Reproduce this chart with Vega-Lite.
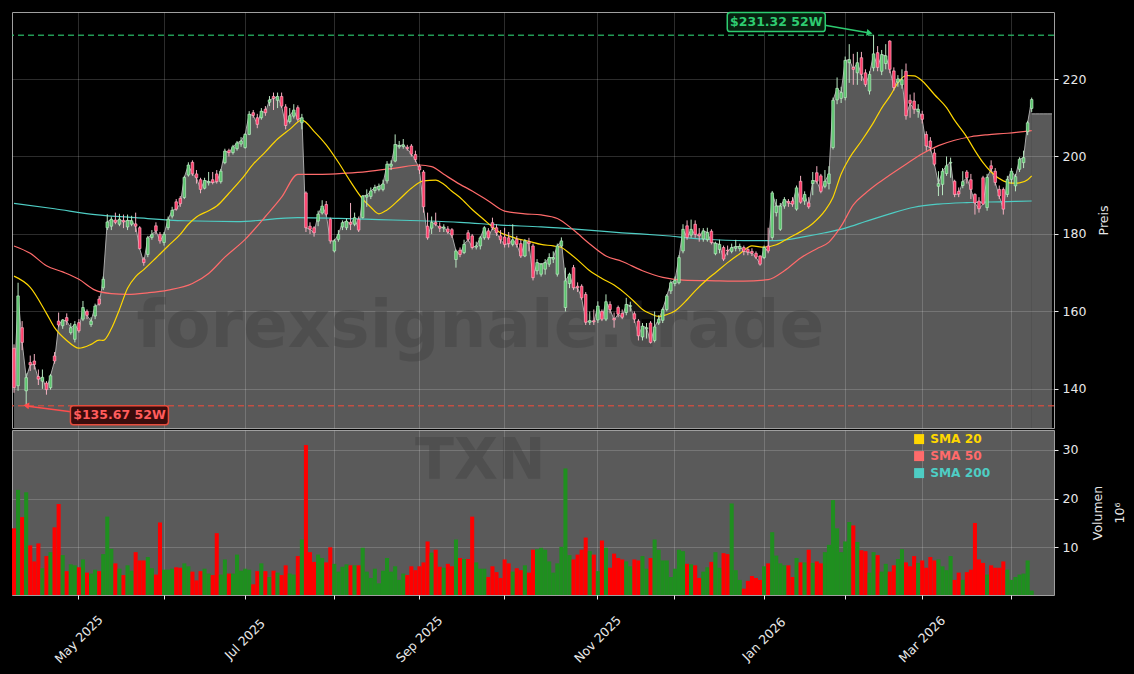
{
"$schema":"https://vega.github.io/schema/vega-lite/v6.json",
"background":"#000000",
"padding":{"left":10,"top":9,"right":12,"bottom":12},
"config":{
 "font":"DejaVu Sans",
 "view":{"stroke":"#a0a0a0","strokeWidth":1},
 "axis":{"gridColor":"#ffffff","gridOpacity":0.22,"gridWidth":0.8,"domain":false,"labelColor":"#e8e8e8","labelFont":"DejaVu Sans","labelFontSize":12.5,"tickColor":"#e8e8e8","tickSize":4,"titleColor":"#e8e8e8","titleFont":"DejaVu Sans","titleFontSize":12.5,"titleFontWeight":"normal"}
},
"datasets":{
"ohlc":[
{"date":"2025-04-08","open":150.5,"high":151.5,"low":139.0,"close":140.3,"volume":13.9},
{"date":"2025-04-09","open":140.8,"high":167.4,"low":139.5,"close":164.0,"volume":21.8},
{"date":"2025-04-10","open":155.8,"high":157.5,"low":150.0,"close":152.0,"volume":16.2},
{"date":"2025-04-11","open":139.5,"high":144.0,"low":135.67,"close":142.9,"volume":21.3},
{"date":"2025-04-14","open":146.8,"high":148.6,"low":144.6,"close":146.2,"volume":10.4},
{"date":"2025-04-15","open":147.2,"high":149.0,"low":145.0,"close":146.3,"volume":7.1},
{"date":"2025-04-16","open":143.2,"high":145.0,"low":141.0,"close":142.5,"volume":10.8},
{"date":"2025-04-17","open":142.0,"high":145.0,"low":140.0,"close":143.0,"volume":5.7},
{"date":"2025-04-21","open":141.5,"high":142.0,"low":138.5,"close":139.8,"volume":8.2},
{"date":"2025-04-22","open":140.3,"high":143.8,"low":139.8,"close":143.4,"volume":9.0},
{"date":"2025-04-23","open":148.5,"high":149.5,"low":146.5,"close":147.2,"volume":14.1},
{"date":"2025-04-24","open":157.5,"high":159.7,"low":156.0,"close":156.5,"volume":18.9},
{"date":"2025-04-25","open":156.3,"high":158.0,"low":155.5,"close":157.8,"volume":8.4},
{"date":"2025-04-28","open":158.4,"high":159.5,"low":156.5,"close":157.5,"volume":5.1},
{"date":"2025-04-29","open":154.5,"high":157.0,"low":154.0,"close":155.8,"volume":6.5},
{"date":"2025-04-30","open":152.8,"high":157.5,"low":152.0,"close":156.6,"volume":6.3},
{"date":"2025-05-01","open":157.1,"high":158.0,"low":154.5,"close":155.0,"volume":5.9},
{"date":"2025-05-02","open":158.0,"high":162.7,"low":157.5,"close":161.0,"volume":7.5},
{"date":"2025-05-05","open":160.0,"high":160.5,"low":158.0,"close":159.0,"volume":4.8},
{"date":"2025-05-06","open":156.6,"high":158.5,"low":156.0,"close":157.5,"volume":4.6},
{"date":"2025-05-07","open":158.8,"high":162.0,"low":158.0,"close":161.4,"volume":5.4},
{"date":"2025-05-08","open":163.2,"high":164.0,"low":161.5,"close":161.9,"volume":5.1},
{"date":"2025-05-09","open":166.1,"high":169.0,"low":165.5,"close":168.3,"volume":8.6},
{"date":"2025-05-12","open":181.6,"high":185.1,"low":181.0,"close":183.1,"volume":16.3},
{"date":"2025-05-13","open":182.0,"high":184.5,"low":181.0,"close":183.8,"volume":9.7},
{"date":"2025-05-14","open":183.6,"high":185.5,"low":182.5,"close":183.0,"volume":6.7},
{"date":"2025-05-15","open":182.5,"high":185.2,"low":182.0,"close":183.8,"volume":5.6},
{"date":"2025-05-16","open":183.5,"high":185.0,"low":181.5,"close":183.1,"volume":4.3},
{"date":"2025-05-19","open":181.8,"high":185.0,"low":181.0,"close":183.5,"volume":6.3},
{"date":"2025-05-20","open":182.5,"high":184.7,"low":182.0,"close":183.4,"volume":5.2},
{"date":"2025-05-21","open":182.6,"high":185.5,"low":180.5,"close":182.0,"volume":9.0},
{"date":"2025-05-22","open":181.6,"high":182.0,"low":176.0,"close":176.2,"volume":7.3},
{"date":"2025-05-23","open":173.5,"high":174.0,"low":171.8,"close":172.6,"volume":7.3},
{"date":"2025-05-27","open":174.7,"high":179.5,"low":174.0,"close":179.0,"volume":8.0},
{"date":"2025-05-28","open":179.1,"high":181.0,"low":178.5,"close":179.9,"volume":5.7},
{"date":"2025-05-29","open":182.1,"high":183.0,"low":180.0,"close":180.8,"volume":4.4},
{"date":"2025-05-30","open":179.9,"high":180.5,"low":177.5,"close":178.2,"volume":15.1},
{"date":"2025-06-02","open":177.8,"high":180.5,"low":177.0,"close":179.9,"volume":5.4},
{"date":"2025-06-03","open":181.6,"high":184.5,"low":181.0,"close":183.8,"volume":5.4},
{"date":"2025-06-04","open":184.6,"high":187.0,"low":184.0,"close":186.1,"volume":5.6},
{"date":"2025-06-05","open":188.3,"high":189.0,"low":186.0,"close":186.4,"volume":5.9},
{"date":"2025-06-06","open":189.2,"high":189.8,"low":187.0,"close":187.8,"volume":5.8},
{"date":"2025-06-09","open":189.4,"high":195.0,"low":189.0,"close":194.6,"volume":6.7},
{"date":"2025-06-10","open":195.2,"high":198.5,"low":194.8,"close":197.8,"volume":6.1},
{"date":"2025-06-11","open":198.5,"high":199.0,"low":195.0,"close":195.5,"volume":5.0},
{"date":"2025-06-12","open":195.5,"high":196.5,"low":193.0,"close":194.5,"volume":3.2},
{"date":"2025-06-13","open":194.0,"high":194.5,"low":190.5,"close":191.5,"volume":5.1},
{"date":"2025-06-16","open":191.8,"high":194.5,"low":191.5,"close":193.8,"volume":5.6},
{"date":"2025-06-17","open":193.2,"high":196.0,"low":192.5,"close":193.5,"volume":4.6},
{"date":"2025-06-18","open":194.0,"high":196.0,"low":192.8,"close":193.3,"volume":4.3},
{"date":"2025-06-20","open":195.5,"high":196.5,"low":193.0,"close":193.5,"volume":12.9},
{"date":"2025-06-23","open":193.5,"high":196.8,"low":193.0,"close":196.2,"volume":4.4},
{"date":"2025-06-24","open":198.4,"high":202.0,"low":198.0,"close":201.4,"volume":7.5},
{"date":"2025-06-25","open":201.5,"high":202.0,"low":200.0,"close":201.0,"volume":4.6},
{"date":"2025-06-26","open":201.0,"high":203.0,"low":200.5,"close":202.5,"volume":4.6},
{"date":"2025-06-27","open":202.0,"high":204.0,"low":201.5,"close":203.5,"volume":8.5},
{"date":"2025-06-30","open":203.2,"high":205.0,"low":202.5,"close":204.0,"volume":5.2},
{"date":"2025-07-01","open":202.3,"high":206.0,"low":202.0,"close":205.7,"volume":5.6},
{"date":"2025-07-02","open":205.7,"high":211.7,"low":205.5,"close":210.9,"volume":5.4},
{"date":"2025-07-03","open":211.3,"high":212.0,"low":210.0,"close":210.6,"volume":2.4},
{"date":"2025-07-07","open":210.0,"high":211.0,"low":207.3,"close":208.3,"volume":5.1},
{"date":"2025-07-08","open":210.0,"high":212.5,"low":209.5,"close":211.7,"volume":6.7},
{"date":"2025-07-09","open":212.2,"high":213.0,"low":210.5,"close":211.3,"volume":5.1},
{"date":"2025-07-10","open":214.0,"high":215.6,"low":213.0,"close":214.6,"volume":3.9},
{"date":"2025-07-11","open":215.5,"high":216.5,"low":212.0,"close":215.0,"volume":5.2},
{"date":"2025-07-14","open":214.5,"high":216.5,"low":212.5,"close":215.5,"volume":4.8},
{"date":"2025-07-15","open":215.5,"high":216.5,"low":212.5,"close":213.0,"volume":4.3},
{"date":"2025-07-16","open":212.8,"high":213.5,"low":207.0,"close":208.0,"volume":6.3},
{"date":"2025-07-17","open":209.0,"high":212.5,"low":208.5,"close":210.5,"volume":4.6},
{"date":"2025-07-18","open":210.4,"high":213.5,"low":209.8,"close":212.0,"volume":4.4},
{"date":"2025-07-21","open":212.6,"high":213.2,"low":209.0,"close":209.6,"volume":8.2},
{"date":"2025-07-22","open":208.7,"high":211.0,"low":207.0,"close":210.0,"volume":11.6},
{"date":"2025-07-23","open":190.6,"high":191.0,"low":180.5,"close":181.6,"volume":31.0},
{"date":"2025-07-24","open":182.0,"high":183.0,"low":180.0,"close":181.2,"volume":9.0},
{"date":"2025-07-25","open":181.6,"high":182.0,"low":179.3,"close":180.3,"volume":7.0},
{"date":"2025-07-28","open":183.3,"high":186.0,"low":182.0,"close":185.1,"volume":8.5},
{"date":"2025-07-29","open":185.4,"high":188.7,"low":185.0,"close":187.2,"volume":7.8},
{"date":"2025-07-30","open":187.6,"high":188.5,"low":184.5,"close":185.1,"volume":6.9},
{"date":"2025-07-31","open":183.8,"high":184.2,"low":177.5,"close":178.2,"volume":10.0},
{"date":"2025-08-01","open":175.6,"high":178.7,"low":175.2,"close":178.2,"volume":6.6},
{"date":"2025-08-04","open":178.6,"high":181.0,"low":178.0,"close":179.9,"volume":5.0},
{"date":"2025-08-05","open":181.8,"high":183.5,"low":181.0,"close":182.9,"volume":6.0},
{"date":"2025-08-06","open":181.6,"high":184.0,"low":181.0,"close":183.3,"volume":6.5},
{"date":"2025-08-07","open":183.0,"high":188.0,"low":181.0,"close":182.5,"volume":6.3},
{"date":"2025-08-08","open":182.5,"high":185.5,"low":182.0,"close":184.2,"volume":6.3},
{"date":"2025-08-11","open":183.8,"high":184.5,"low":180.5,"close":181.0,"volume":6.3},
{"date":"2025-08-12","open":184.2,"high":190.0,"low":184.0,"close":189.8,"volume":9.9},
{"date":"2025-08-13","open":189.5,"high":191.5,"low":187.0,"close":190.0,"volume":5.0},
{"date":"2025-08-14","open":189.7,"high":192.0,"low":189.0,"close":191.1,"volume":3.7},
{"date":"2025-08-15","open":191.2,"high":192.7,"low":190.5,"close":192.0,"volume":5.6},
{"date":"2025-08-18","open":191.5,"high":193.0,"low":191.0,"close":192.3,"volume":2.6},
{"date":"2025-08-19","open":191.5,"high":194.0,"low":191.0,"close":192.9,"volume":5.2},
{"date":"2025-08-20","open":193.7,"high":198.8,"low":193.0,"close":198.0,"volume":7.8},
{"date":"2025-08-21","open":197.5,"high":199.0,"low":196.5,"close":198.0,"volume":5.0},
{"date":"2025-08-22","open":198.8,"high":205.7,"low":198.5,"close":203.1,"volume":6.1},
{"date":"2025-08-25","open":202.5,"high":204.0,"low":202.0,"close":202.8,"volume":3.3},
{"date":"2025-08-26","open":202.6,"high":204.5,"low":202.0,"close":203.0,"volume":4.6},
{"date":"2025-08-27","open":202.4,"high":203.0,"low":201.5,"close":202.0,"volume":4.3},
{"date":"2025-08-28","open":202.7,"high":203.2,"low":200.0,"close":200.6,"volume":6.1},
{"date":"2025-08-29","open":200.5,"high":201.5,"low":198.5,"close":199.2,"volume":5.3},
{"date":"2025-09-02","open":197.5,"high":198.0,"low":195.5,"close":196.5,"volume":6.1},
{"date":"2025-09-03","open":196.0,"high":196.5,"low":185.5,"close":187.0,"volume":6.9},
{"date":"2025-09-04","open":182.0,"high":185.5,"low":178.5,"close":179.0,"volume":11.2},
{"date":"2025-09-05","open":181.5,"high":184.5,"low":180.0,"close":183.0,"volume":8.9},
{"date":"2025-09-08","open":183.0,"high":185.5,"low":182.0,"close":182.5,"volume":9.5},
{"date":"2025-09-09","open":182.0,"high":183.0,"low":180.5,"close":181.5,"volume":6.0},
{"date":"2025-09-10","open":181.5,"high":182.5,"low":180.5,"close":181.8,"volume":5.8},
{"date":"2025-09-11","open":181.3,"high":182.0,"low":180.0,"close":180.5,"volume":6.6},
{"date":"2025-09-12","open":181.1,"high":181.5,"low":179.0,"close":179.7,"volume":6.1},
{"date":"2025-09-15","open":173.4,"high":176.0,"low":171.3,"close":175.6,"volume":11.6},
{"date":"2025-09-16","open":175.8,"high":176.5,"low":174.0,"close":174.7,"volume":7.8},
{"date":"2025-09-17","open":175.2,"high":178.5,"low":174.8,"close":177.3,"volume":7.6},
{"date":"2025-09-18","open":180.3,"high":181.0,"low":178.0,"close":178.6,"volume":7.6},
{"date":"2025-09-19","open":179.5,"high":180.0,"low":176.0,"close":176.5,"volume":16.3},
{"date":"2025-09-22","open":176.6,"high":178.0,"low":176.0,"close":176.9,"volume":6.9},
{"date":"2025-09-23","open":176.9,"high":179.5,"low":176.0,"close":179.0,"volume":5.6},
{"date":"2025-09-24","open":179.0,"high":182.0,"low":178.5,"close":181.6,"volume":5.6},
{"date":"2025-09-25","open":180.8,"high":181.5,"low":178.5,"close":179.0,"volume":3.9},
{"date":"2025-09-26","open":182.9,"high":184.2,"low":181.0,"close":181.6,"volume":6.1},
{"date":"2025-09-29","open":181.6,"high":182.5,"low":179.5,"close":180.3,"volume":4.9},
{"date":"2025-09-30","open":179.5,"high":181.0,"low":177.5,"close":178.5,"volume":3.7},
{"date":"2025-10-01","open":179.2,"high":181.6,"low":176.5,"close":177.3,"volume":7.5},
{"date":"2025-10-02","open":179.0,"high":180.5,"low":176.5,"close":177.5,"volume":6.7},
{"date":"2025-10-03","open":177.3,"high":182.5,"low":176.8,"close":178.5,"volume":5.0},
{"date":"2025-10-06","open":178.6,"high":179.5,"low":176.5,"close":177.3,"volume":5.7},
{"date":"2025-10-07","open":177.5,"high":178.5,"low":173.8,"close":174.3,"volume":5.3},
{"date":"2025-10-08","open":174.3,"high":178.7,"low":174.0,"close":178.2,"volume":6.3},
{"date":"2025-10-09","open":178.0,"high":179.0,"low":175.5,"close":177.5,"volume":4.8},
{"date":"2025-10-10","open":176.9,"high":177.5,"low":168.0,"close":168.7,"volume":9.5},
{"date":"2025-10-13","open":170.5,"high":173.5,"low":169.5,"close":172.6,"volume":9.6},
{"date":"2025-10-14","open":169.6,"high":172.5,"low":169.0,"close":172.2,"volume":9.9},
{"date":"2025-10-15","open":170.9,"high":173.5,"low":169.5,"close":172.6,"volume":9.5},
{"date":"2025-10-16","open":172.2,"high":175.0,"low":171.5,"close":173.9,"volume":7.1},
{"date":"2025-10-17","open":173.5,"high":175.5,"low":172.5,"close":173.9,"volume":4.8},
{"date":"2025-10-20","open":169.6,"high":177.5,"low":169.0,"close":176.9,"volume":6.7},
{"date":"2025-10-21","open":176.9,"high":179.1,"low":176.5,"close":178.2,"volume":10.1},
{"date":"2025-10-22","open":161.0,"high":171.3,"low":160.0,"close":167.9,"volume":26.2},
{"date":"2025-10-23","open":167.2,"high":170.0,"low":166.0,"close":169.6,"volume":8.4},
{"date":"2025-10-24","open":171.3,"high":172.0,"low":165.5,"close":166.1,"volume":7.5},
{"date":"2025-10-27","open":166.5,"high":167.5,"low":165.0,"close":166.1,"volume":8.5},
{"date":"2025-10-28","open":166.5,"high":167.0,"low":163.0,"close":163.5,"volume":9.5},
{"date":"2025-10-29","open":164.4,"high":165.0,"low":156.5,"close":157.2,"volume":12.0},
{"date":"2025-10-30","open":157.2,"high":160.0,"low":156.5,"close":157.6,"volume":9.2},
{"date":"2025-10-31","open":157.6,"high":160.5,"low":156.5,"close":157.3,"volume":8.5},
{"date":"2025-11-03","open":157.8,"high":162.6,"low":157.0,"close":161.4,"volume":5.1},
{"date":"2025-11-04","open":160.0,"high":160.5,"low":157.5,"close":158.0,"volume":11.4},
{"date":"2025-11-05","open":158.0,"high":164.4,"low":157.5,"close":162.5,"volume":9.9},
{"date":"2025-11-06","open":161.8,"high":162.6,"low":159.5,"close":160.5,"volume":5.8},
{"date":"2025-11-07","open":158.2,"high":159.7,"low":155.8,"close":157.8,"volume":8.7},
{"date":"2025-11-10","open":161.0,"high":161.5,"low":158.5,"close":159.3,"volume":7.8},
{"date":"2025-11-11","open":159.5,"high":160.5,"low":158.0,"close":158.5,"volume":7.5},
{"date":"2025-11-12","open":159.7,"high":163.5,"low":159.0,"close":161.8,"volume":7.1},
{"date":"2025-11-13","open":161.3,"high":162.5,"low":160.0,"close":161.5,"volume":6.1},
{"date":"2025-11-14","open":159.4,"high":160.0,"low":157.0,"close":158.0,"volume":7.5},
{"date":"2025-11-17","open":157.5,"high":158.0,"low":152.5,"close":153.7,"volume":7.3},
{"date":"2025-11-18","open":153.4,"high":157.0,"low":152.5,"close":156.2,"volume":8.2},
{"date":"2025-11-19","open":155.5,"high":157.0,"low":153.0,"close":155.8,"volume":5.6},
{"date":"2025-11-20","open":157.0,"high":157.5,"low":151.7,"close":152.0,"volume":7.8},
{"date":"2025-11-21","open":152.5,"high":160.0,"low":152.0,"close":156.0,"volume":11.6},
{"date":"2025-11-24","open":157.0,"high":159.0,"low":156.5,"close":158.0,"volume":9.5},
{"date":"2025-11-25","open":157.7,"high":161.0,"low":157.0,"close":160.5,"volume":7.3},
{"date":"2025-11-26","open":160.5,"high":164.5,"low":160.0,"close":164.0,"volume":7.3},
{"date":"2025-11-28","open":165.3,"high":168.0,"low":164.5,"close":167.4,"volume":3.9},
{"date":"2025-12-01","open":167.2,"high":169.0,"low":166.5,"close":168.0,"volume":5.6},
{"date":"2025-12-02","open":167.4,"high":174.5,"low":167.0,"close":173.9,"volume":9.5},
{"date":"2025-12-03","open":175.6,"high":182.5,"low":175.0,"close":181.2,"volume":9.2},
{"date":"2025-12-04","open":182.1,"high":183.5,"low":178.5,"close":179.1,"volume":6.6},
{"date":"2025-12-05","open":179.7,"high":183.7,"low":179.0,"close":181.2,"volume":6.5},
{"date":"2025-12-08","open":182.5,"high":183.5,"low":179.0,"close":179.9,"volume":6.3},
{"date":"2025-12-09","open":180.0,"high":181.5,"low":178.0,"close":179.5,"volume":3.7},
{"date":"2025-12-10","open":178.7,"high":181.5,"low":178.0,"close":180.8,"volume":5.0},
{"date":"2025-12-11","open":178.5,"high":181.6,"low":178.0,"close":180.4,"volume":5.9},
{"date":"2025-12-12","open":180.7,"high":181.2,"low":177.3,"close":177.8,"volume":7.0},
{"date":"2025-12-15","open":174.9,"high":178.0,"low":174.5,"close":177.6,"volume":9.0},
{"date":"2025-12-16","open":176.0,"high":178.5,"low":175.0,"close":177.3,"volume":5.8},
{"date":"2025-12-17","open":176.5,"high":177.0,"low":173.0,"close":173.5,"volume":8.8},
{"date":"2025-12-18","open":175.8,"high":177.0,"low":174.5,"close":175.6,"volume":8.6},
{"date":"2025-12-19","open":175.5,"high":177.5,"low":175.0,"close":176.5,"volume":19.0},
{"date":"2025-12-22","open":176.3,"high":178.5,"low":175.5,"close":176.7,"volume":5.3},
{"date":"2025-12-23","open":176.2,"high":177.5,"low":175.5,"close":176.8,"volume":3.3},
{"date":"2025-12-24","open":176.5,"high":177.0,"low":174.5,"close":175.5,"volume":1.5},
{"date":"2025-12-26","open":176.0,"high":176.5,"low":174.5,"close":175.3,"volume":3.1},
{"date":"2025-12-29","open":175.5,"high":176.3,"low":174.3,"close":175.0,"volume":4.1},
{"date":"2025-12-30","open":175.0,"high":175.5,"low":173.5,"close":174.0,"volume":3.7},
{"date":"2025-12-31","open":174.3,"high":174.5,"low":171.8,"close":172.2,"volume":3.3},
{"date":"2026-01-02","open":173.9,"high":177.0,"low":173.5,"close":176.5,"volume":6.1},
{"date":"2026-01-05","open":176.9,"high":181.6,"low":175.0,"close":175.6,"volume":6.7},
{"date":"2026-01-06","open":179.1,"high":191.1,"low":178.5,"close":190.6,"volume":13.1},
{"date":"2026-01-07","open":185.5,"high":189.0,"low":184.5,"close":187.2,"volume":8.3},
{"date":"2026-01-08","open":181.2,"high":188.0,"low":180.8,"close":187.2,"volume":6.7},
{"date":"2026-01-09","open":187.2,"high":189.5,"low":186.5,"close":188.9,"volume":6.3},
{"date":"2026-01-12","open":188.4,"high":189.0,"low":187.0,"close":188.0,"volume":6.3},
{"date":"2026-01-13","open":188.5,"high":189.5,"low":187.0,"close":187.7,"volume":3.9},
{"date":"2026-01-14","open":186.4,"high":192.5,"low":186.0,"close":191.9,"volume":7.8},
{"date":"2026-01-15","open":193.6,"high":195.0,"low":187.8,"close":188.2,"volume":6.9},
{"date":"2026-01-16","open":188.5,"high":191.0,"low":187.5,"close":190.2,"volume":6.9},
{"date":"2026-01-20","open":188.0,"high":189.5,"low":186.5,"close":187.0,"volume":9.5},
{"date":"2026-01-21","open":193.0,"high":196.0,"low":190.0,"close":193.8,"volume":6.8},
{"date":"2026-01-22","open":195.8,"high":197.5,"low":193.0,"close":193.6,"volume":7.1},
{"date":"2026-01-23","open":195.0,"high":195.5,"low":190.5,"close":191.0,"volume":6.7},
{"date":"2026-01-26","open":192.3,"high":196.5,"low":191.8,"close":193.6,"volume":9.0},
{"date":"2026-01-27","open":193.0,"high":197.5,"low":191.5,"close":195.5,"volume":10.5},
{"date":"2026-01-28","open":202.3,"high":215.2,"low":201.8,"close":214.5,"volume":19.7},
{"date":"2026-01-29","open":214.6,"high":220.4,"low":213.5,"close":217.6,"volume":13.9},
{"date":"2026-01-30","open":215.0,"high":218.0,"low":213.8,"close":216.5,"volume":9.0},
{"date":"2026-02-02","open":215.2,"high":225.8,"low":214.5,"close":224.8,"volume":11.2},
{"date":"2026-02-03","open":224.2,"high":229.0,"low":219.0,"close":225.0,"volume":15.2},
{"date":"2026-02-04","open":223.0,"high":226.5,"low":218.5,"close":222.5,"volume":14.5},
{"date":"2026-02-05","open":221.6,"high":227.0,"low":218.5,"close":224.2,"volume":11.1},
{"date":"2026-02-06","open":225.5,"high":227.0,"low":219.5,"close":221.2,"volume":9.4},
{"date":"2026-02-09","open":221.6,"high":222.5,"low":218.0,"close":218.6,"volume":9.2},
{"date":"2026-02-10","open":216.9,"high":222.0,"low":216.0,"close":221.2,"volume":4.8},
{"date":"2026-02-11","open":222.9,"high":231.32,"low":222.0,"close":226.5,"volume":9.0},
{"date":"2026-02-12","open":226.8,"high":228.5,"low":222.0,"close":223.0,"volume":8.4},
{"date":"2026-02-13","open":222.0,"high":227.5,"low":221.0,"close":226.3,"volume":5.0},
{"date":"2026-02-17","open":224.0,"high":229.0,"low":222.5,"close":226.0,"volume":6.6},
{"date":"2026-02-18","open":229.8,"high":230.0,"low":221.5,"close":222.5,"volume":5.0},
{"date":"2026-02-19","open":222.1,"high":223.0,"low":217.0,"close":217.8,"volume":6.3},
{"date":"2026-02-20","open":219.2,"high":221.0,"low":218.0,"close":220.0,"volume":7.6},
{"date":"2026-02-23","open":218.5,"high":222.5,"low":217.5,"close":219.8,"volume":9.6},
{"date":"2026-02-24","open":222.0,"high":224.0,"low":209.5,"close":210.5,"volume":6.9},
{"date":"2026-02-25","open":214.5,"high":216.0,"low":210.0,"close":213.7,"volume":6.1},
{"date":"2026-02-26","open":214.3,"high":216.5,"low":211.0,"close":212.2,"volume":8.2},
{"date":"2026-02-27","open":211.6,"high":213.5,"low":210.0,"close":212.2,"volume":6.8},
{"date":"2026-03-02","open":210.9,"high":211.8,"low":208.5,"close":209.6,"volume":7.3},
{"date":"2026-03-03","open":205.7,"high":206.5,"low":201.5,"close":202.7,"volume":5.8},
{"date":"2026-03-04","open":204.0,"high":205.0,"low":201.3,"close":202.3,"volume":8.0},
{"date":"2026-03-05","open":200.9,"high":202.0,"low":197.5,"close":198.0,"volume":7.3},
{"date":"2026-03-06","open":192.3,"high":196.2,"low":189.8,"close":193.0,"volume":7.5},
{"date":"2026-03-09","open":192.8,"high":197.0,"low":190.0,"close":196.2,"volume":6.1},
{"date":"2026-03-10","open":195.6,"high":200.0,"low":195.0,"close":197.6,"volume":5.3},
{"date":"2026-03-11","open":198.3,"high":199.7,"low":194.5,"close":198.5,"volume":8.2},
{"date":"2026-03-12","open":193.6,"high":194.0,"low":189.5,"close":190.2,"volume":3.3},
{"date":"2026-03-13","open":191.0,"high":192.0,"low":189.5,"close":190.3,"volume":4.8},
{"date":"2026-03-16","open":192.5,"high":196.2,"low":191.8,"close":193.5,"volume":3.3},
{"date":"2026-03-17","open":196.0,"high":196.5,"low":193.0,"close":194.5,"volume":4.9},
{"date":"2026-03-18","open":194.0,"high":195.5,"low":189.0,"close":191.5,"volume":5.4},
{"date":"2026-03-19","open":190.2,"high":190.5,"low":185.0,"close":188.0,"volume":15.0},
{"date":"2026-03-20","open":188.5,"high":189.5,"low":185.5,"close":186.5,"volume":7.5},
{"date":"2026-03-23","open":194.5,"high":195.0,"low":187.5,"close":187.7,"volume":6.8},
{"date":"2026-03-24","open":186.8,"high":195.5,"low":186.0,"close":194.6,"volume":4.4},
{"date":"2026-03-25","open":197.6,"high":199.0,"low":196.0,"close":196.8,"volume":6.3},
{"date":"2026-03-26","open":196.2,"high":197.0,"low":192.5,"close":193.3,"volume":5.8},
{"date":"2026-03-27","open":191.5,"high":192.5,"low":189.0,"close":189.8,"volume":5.8},
{"date":"2026-03-30","open":191.5,"high":192.0,"low":185.0,"close":186.4,"volume":7.1},
{"date":"2026-03-31","open":190.2,"high":195.0,"low":189.5,"close":194.1,"volume":5.4},
{"date":"2026-04-01","open":194.1,"high":197.0,"low":193.0,"close":196.2,"volume":3.3},
{"date":"2026-04-02","open":192.4,"high":195.5,"low":191.0,"close":194.8,"volume":3.9},
{"date":"2026-04-06","open":196.7,"high":199.8,"low":196.0,"close":199.3,"volume":4.4},
{"date":"2026-04-07","open":198.4,"high":201.5,"low":197.0,"close":199.7,"volume":4.6},
{"date":"2026-04-08","open":206.4,"high":209.2,"low":205.5,"close":208.7,"volume":7.3},
{"date":"2026-04-09","open":212.4,"high":215.2,"low":211.5,"close":214.7,"volume":1.1}
],
"tail":[
{"date":"2026-04-09","level":211},{"date":"2026-04-10","level":211},{"date":"2026-04-13","level":211},{"date":"2026-04-14","level":211},{"date":"2026-04-15","level":211},{"date":"2026-04-16","level":211}
],
"sma":[
{"date":"2025-04-08","series":"SMA 200","value":187.9},{"date":"2025-04-23","series":"SMA 200","value":186.5},{"date":"2025-05-07","series":"SMA 200","value":185.0},{"date":"2025-05-21","series":"SMA 200","value":184.2},{"date":"2025-06-09","series":"SMA 200","value":183.4},{"date":"2025-06-27","series":"SMA 200","value":183.2},{"date":"2025-07-21","series":"SMA 200","value":184.2},{"date":"2025-08-04","series":"SMA 200","value":184.0},{"date":"2025-08-18","series":"SMA 200","value":183.7},{"date":"2025-09-02","series":"SMA 200","value":183.4},{"date":"2025-09-16","series":"SMA 200","value":183.0},{"date":"2025-09-30","series":"SMA 200","value":182.3},{"date":"2025-10-14","series":"SMA 200","value":181.8},{"date":"2025-10-28","series":"SMA 200","value":181.1},{"date":"2025-11-11","series":"SMA 200","value":180.3},{"date":"2025-11-25","series":"SMA 200","value":179.6},{"date":"2025-12-10","series":"SMA 200","value":178.7},{"date":"2025-12-24","series":"SMA 200","value":178.3},{"date":"2026-01-07","series":"SMA 200","value":178.3},{"date":"2026-01-16","series":"SMA 200","value":179.3},{"date":"2026-01-26","series":"SMA 200","value":180.3},{"date":"2026-02-02","series":"SMA 200","value":181.5},{"date":"2026-02-09","series":"SMA 200","value":183.2},{"date":"2026-02-18","series":"SMA 200","value":185.2},{"date":"2026-02-26","series":"SMA 200","value":186.9},{"date":"2026-03-06","series":"SMA 200","value":187.7},{"date":"2026-03-17","series":"SMA 200","value":188.1},{"date":"2026-03-27","series":"SMA 200","value":188.3},{"date":"2026-04-09","series":"SMA 200","value":188.5},
{"date":"2025-04-08","series":"SMA 50","value":176.9},{"date":"2025-04-14","series":"SMA 50","value":175.0},{"date":"2025-04-21","series":"SMA 50","value":171.8},{"date":"2025-04-25","series":"SMA 50","value":170.2},{"date":"2025-05-01","series":"SMA 50","value":168.3},{"date":"2025-05-07","series":"SMA 50","value":165.5},{"date":"2025-05-13","series":"SMA 50","value":164.6},{"date":"2025-05-19","series":"SMA 50","value":164.4},{"date":"2025-05-27","series":"SMA 50","value":164.8},{"date":"2025-06-03","series":"SMA 50","value":165.5},{"date":"2025-06-11","series":"SMA 50","value":167.2},{"date":"2025-06-17","series":"SMA 50","value":169.8},{"date":"2025-06-24","series":"SMA 50","value":174.0},{"date":"2025-07-01","series":"SMA 50","value":178.6},{"date":"2025-07-09","series":"SMA 50","value":184.5},{"date":"2025-07-15","series":"SMA 50","value":189.5},{"date":"2025-07-21","series":"SMA 50","value":195.4},{"date":"2025-07-29","series":"SMA 50","value":195.4},{"date":"2025-08-06","series":"SMA 50","value":195.7},{"date":"2025-08-13","series":"SMA 50","value":196.1},{"date":"2025-08-22","series":"SMA 50","value":197.0},{"date":"2025-09-02","series":"SMA 50","value":197.8},{"date":"2025-09-05","series":"SMA 50","value":197.4},{"date":"2025-09-10","series":"SMA 50","value":195.4},{"date":"2025-09-16","series":"SMA 50","value":192.8},{"date":"2025-09-19","series":"SMA 50","value":191.1},{"date":"2025-09-25","series":"SMA 50","value":188.5},{"date":"2025-10-01","series":"SMA 50","value":185.9},{"date":"2025-10-08","series":"SMA 50","value":185.2},{"date":"2025-10-14","series":"SMA 50","value":184.9},{"date":"2025-10-20","series":"SMA 50","value":184.0},{"date":"2025-10-24","series":"SMA 50","value":181.0},{"date":"2025-10-30","series":"SMA 50","value":177.4},{"date":"2025-11-05","series":"SMA 50","value":174.3},{"date":"2025-11-11","series":"SMA 50","value":172.9},{"date":"2025-11-18","series":"SMA 50","value":170.5},{"date":"2025-11-25","series":"SMA 50","value":168.8},{"date":"2025-12-03","series":"SMA 50","value":168.1},{"date":"2025-12-15","series":"SMA 50","value":167.9},{"date":"2025-12-24","series":"SMA 50","value":167.8},{"date":"2026-01-05","series":"SMA 50","value":168.2},{"date":"2026-01-09","series":"SMA 50","value":170.5},{"date":"2026-01-15","series":"SMA 50","value":173.8},{"date":"2026-01-22","series":"SMA 50","value":176.2},{"date":"2026-01-27","series":"SMA 50","value":177.9},{"date":"2026-01-30","series":"SMA 50","value":182.0},{"date":"2026-02-04","series":"SMA 50","value":187.5},{"date":"2026-02-09","series":"SMA 50","value":190.5},{"date":"2026-02-12","series":"SMA 50","value":193.0},{"date":"2026-02-18","series":"SMA 50","value":195.2},{"date":"2026-02-24","series":"SMA 50","value":198.0},{"date":"2026-03-02","series":"SMA 50","value":200.7},{"date":"2026-03-06","series":"SMA 50","value":202.8},{"date":"2026-03-12","series":"SMA 50","value":204.2},{"date":"2026-03-18","series":"SMA 50","value":205.1},{"date":"2026-03-24","series":"SMA 50","value":205.6},{"date":"2026-03-31","series":"SMA 50","value":206.0},{"date":"2026-04-09","series":"SMA 50","value":206.7},
{"date":"2025-04-08","series":"SMA 20","value":169.1},{"date":"2025-04-14","series":"SMA 20","value":166.2},{"date":"2025-04-21","series":"SMA 20","value":159.5},{"date":"2025-04-23","series":"SMA 20","value":155.8},{"date":"2025-04-28","series":"SMA 20","value":152.5},{"date":"2025-05-01","series":"SMA 20","value":150.5},{"date":"2025-05-06","series":"SMA 20","value":151.5},{"date":"2025-05-08","series":"SMA 20","value":152.6},{"date":"2025-05-09","series":"SMA 20","value":152.5},{"date":"2025-05-13","series":"SMA 20","value":155.5},{"date":"2025-05-15","series":"SMA 20","value":160.5},{"date":"2025-05-19","series":"SMA 20","value":166.0},{"date":"2025-05-21","series":"SMA 20","value":169.0},{"date":"2025-05-23","series":"SMA 20","value":170.8},{"date":"2025-05-29","series":"SMA 20","value":173.8},{"date":"2025-06-03","series":"SMA 20","value":176.9},{"date":"2025-06-06","series":"SMA 20","value":179.9},{"date":"2025-06-10","series":"SMA 20","value":182.5},{"date":"2025-06-12","series":"SMA 20","value":184.4},{"date":"2025-06-17","series":"SMA 20","value":186.0},{"date":"2025-06-20","series":"SMA 20","value":187.2},{"date":"2025-06-25","series":"SMA 20","value":190.5},{"date":"2025-06-30","series":"SMA 20","value":194.0},{"date":"2025-07-03","series":"SMA 20","value":198.0},{"date":"2025-07-09","series":"SMA 20","value":201.2},{"date":"2025-07-14","series":"SMA 20","value":204.5},{"date":"2025-07-17","series":"SMA 20","value":207.0},{"date":"2025-07-22","series":"SMA 20","value":209.4},{"date":"2025-07-25","series":"SMA 20","value":206.5},{"date":"2025-07-30","series":"SMA 20","value":203.0},{"date":"2025-08-04","series":"SMA 20","value":198.5},{"date":"2025-08-07","series":"SMA 20","value":193.5},{"date":"2025-08-12","series":"SMA 20","value":189.0},{"date":"2025-08-14","series":"SMA 20","value":186.9},{"date":"2025-08-18","series":"SMA 20","value":185.2},{"date":"2025-08-20","series":"SMA 20","value":186.2},{"date":"2025-08-25","series":"SMA 20","value":188.9},{"date":"2025-08-28","series":"SMA 20","value":191.8},{"date":"2025-09-03","series":"SMA 20","value":193.7},{"date":"2025-09-08","series":"SMA 20","value":193.9},{"date":"2025-09-10","series":"SMA 20","value":192.8},{"date":"2025-09-12","series":"SMA 20","value":191.0},{"date":"2025-09-16","series":"SMA 20","value":189.4},{"date":"2025-09-19","series":"SMA 20","value":186.3},{"date":"2025-09-24","series":"SMA 20","value":183.6},{"date":"2025-09-26","series":"SMA 20","value":181.8},{"date":"2025-09-30","series":"SMA 20","value":180.3},{"date":"2025-10-02","series":"SMA 20","value":179.5},{"date":"2025-10-06","series":"SMA 20","value":178.8},{"date":"2025-10-09","series":"SMA 20","value":178.1},{"date":"2025-10-14","series":"SMA 20","value":177.3},{"date":"2025-10-17","series":"SMA 20","value":176.9},{"date":"2025-10-21","series":"SMA 20","value":176.5},{"date":"2025-10-23","series":"SMA 20","value":175.0},{"date":"2025-10-27","series":"SMA 20","value":173.3},{"date":"2025-10-30","series":"SMA 20","value":170.5},{"date":"2025-11-04","series":"SMA 20","value":168.5},{"date":"2025-11-07","series":"SMA 20","value":166.8},{"date":"2025-11-12","series":"SMA 20","value":164.4},{"date":"2025-11-14","series":"SMA 20","value":162.5},{"date":"2025-11-18","series":"SMA 20","value":160.5},{"date":"2025-11-20","series":"SMA 20","value":159.4},{"date":"2025-11-24","series":"SMA 20","value":158.7},{"date":"2025-11-26","series":"SMA 20","value":159.2},{"date":"2025-12-01","series":"SMA 20","value":160.1},{"date":"2025-12-04","series":"SMA 20","value":163.0},{"date":"2025-12-08","series":"SMA 20","value":165.3},{"date":"2025-12-11","series":"SMA 20","value":168.3},{"date":"2025-12-15","series":"SMA 20","value":170.0},{"date":"2025-12-18","series":"SMA 20","value":172.6},{"date":"2025-12-23","series":"SMA 20","value":174.9},{"date":"2025-12-29","series":"SMA 20","value":176.9},{"date":"2026-01-02","series":"SMA 20","value":176.6},{"date":"2026-01-07","series":"SMA 20","value":177.2},{"date":"2026-01-12","series":"SMA 20","value":178.9},{"date":"2026-01-15","series":"SMA 20","value":180.6},{"date":"2026-01-21","series":"SMA 20","value":182.7},{"date":"2026-01-26","series":"SMA 20","value":186.0},{"date":"2026-01-28","series":"SMA 20","value":189.5},{"date":"2026-01-30","series":"SMA 20","value":195.5},{"date":"2026-02-03","series":"SMA 20","value":199.5},{"date":"2026-02-06","series":"SMA 20","value":204.0},{"date":"2026-02-11","series":"SMA 20","value":208.8},{"date":"2026-02-13","series":"SMA 20","value":212.5},{"date":"2026-02-18","series":"SMA 20","value":215.5},{"date":"2026-02-20","series":"SMA 20","value":219.0},{"date":"2026-02-24","series":"SMA 20","value":220.9},{"date":"2026-02-26","series":"SMA 20","value":220.8},{"date":"2026-03-02","series":"SMA 20","value":219.5},{"date":"2026-03-05","series":"SMA 20","value":216.0},{"date":"2026-03-10","series":"SMA 20","value":212.6},{"date":"2026-03-12","series":"SMA 20","value":209.3},{"date":"2026-03-17","series":"SMA 20","value":205.0},{"date":"2026-03-19","series":"SMA 20","value":201.5},{"date":"2026-03-23","series":"SMA 20","value":198.4},{"date":"2026-03-25","series":"SMA 20","value":196.0},{"date":"2026-03-30","series":"SMA 20","value":193.7},{"date":"2026-04-01","series":"SMA 20","value":193.1},{"date":"2026-04-06","series":"SMA 20","value":193.2},{"date":"2026-04-08","series":"SMA 20","value":194.0},{"date":"2026-04-09","series":"SMA 20","value":195.0}
]
},
"spacing":0,
"resolve":{"scale":{"x":"shared"}},
"vconcat":[
{
"width":1042,"height":416,
"layer":[
{"data":{"name":"ohlc"},
 "mark":{"type":"area","clip":true,"fill":"#ffffff","fillOpacity":0.35,"line":{"stroke":"#a8a8a8","strokeWidth":1}},
 "encoding":{
  "x":{"field":"date","type":"ordinal","scale":{"paddingInner":0,"paddingOuter":0},
       "axis":{"labels":false,"ticks":false,"domain":false,"title":null,"grid":true,
               "values":["2025-05-01","2025-06-02","2025-07-01","2025-08-01","2025-09-02","2025-10-01","2025-11-03","2025-12-01","2026-01-02","2026-02-02","2026-03-02","2026-04-01"]}},
  "y":{"field":"close","type":"quantitative","scale":{"domain":[129.9,237.3],"nice":false,"zero":false},
       "axis":{"orient":"right","values":[140,160,180,200,220],"title":"Preis","titleAngle":270,"titleBaseline":"top","titlePadding":12,"labelPadding":4,"grid":true}},
  "y2":{"datum":129.9}
 }},
{"data":{"name":"tail"},
 "mark":{"type":"area","clip":true,"fill":"#ffffff","fillOpacity":0.35,"line":{"stroke":"#a8a8a8","strokeWidth":1}},
 "encoding":{"x":{"field":"date","type":"ordinal"},"y":{"field":"level","type":"quantitative"},"y2":{"datum":129.9}}},
{"data":{"values":[{"label":"forexsignale.trade"}]},
 "mark":{"type":"text","font":"DejaVu Sans","fontWeight":"bold","fontSize":66,"fill":"#3a3a3a","opacity":0.32,"align":"center","baseline":"middle"},
 "encoding":{"x":{"datum":"2025-09-23","type":"ordinal"},"y":{"datum":156,"type":"quantitative"},"text":{"field":"label"}}},
{"data":{"values":[{"level":231.32,"kind":"high"},{"level":135.67,"kind":"low"}]},
 "mark":{"type":"rule","strokeWidth":1.5,"strokeDash":[6,4],"opacity":0.75},
 "encoding":{"y":{"field":"level","type":"quantitative"},
  "color":{"condition":{"test":"datum.kind === 'high'","value":"#2ecc71"},"value":"#e74c3c"}}},
{"data":{"name":"sma"},
 "mark":{"type":"line","strokeWidth":1.2,"interpolate":"monotone"},
 "encoding":{"x":{"field":"date","type":"ordinal"},"y":{"field":"value","type":"quantitative"},
  "color":{"field":"series","type":"nominal","scale":{"domain":["SMA 20","SMA 50","SMA 200"],"range":["#FFD700","#FF6B6B","#4ECDC4"]},
   "legend":{"title":null,"orient":"none","legendX":901,"legendY":421,"padding":0,"symbolType":"square","symbolSize":100,"symbolStrokeWidth":0,"labelFont":"DejaVu Sans","labelFontWeight":"bold","labelFontSize":12.2,"labelOffset":5,"rowPadding":4,
    "encode":{"symbols":{"update":{"fill":{"signal":"datum.value === 'SMA 20' ? '#FFD700' : datum.value === 'SMA 50' ? '#FF6B6B' : '#4ECDC4'"},"stroke":{"value":"transparent"},"opacity":{"value":1}}},
              "labels":{"update":{"fill":{"signal":"datum.value === 'SMA 20' ? '#FFD700' : datum.value === 'SMA 50' ? '#FF6B6B' : '#4ECDC4'"}}}}}}}},
{"data":{"name":"ohlc"},
 "mark":{"type":"rule","strokeWidth":1},
 "encoding":{"x":{"field":"date","type":"ordinal"},"y":{"field":"low","type":"quantitative"},"y2":{"field":"high"},
  "color":{"condition":{"test":"datum.close >= datum.open","value":"#b9e6c1"},"value":"#f2b0c0"}}},
{"data":{"name":"ohlc"},
 "mark":{"type":"bar","width":{"band":0.65},"strokeWidth":0.6},
 "encoding":{"x":{"field":"date","type":"ordinal"},"y":{"field":"open","type":"quantitative"},"y2":{"field":"close"},
  "color":{"condition":{"test":"datum.close >= datum.open","value":"#5cc46e"},"value":"#ff3d6a"},
  "stroke":{"condition":{"test":"datum.close >= datum.open","value":"#c8f2cf"},"value":"#ffc0cf"}}},
{"data":{"values":[{"date":"2026-01-26","date2":"2026-02-10","price":233.9,"price2":231.9,"kind":"high"},{"date":"2025-04-29","date2":"2025-04-11","price":134.1,"price2":135.6,"kind":"low"}]},
 "mark":{"type":"rule","strokeWidth":1.6},
 "encoding":{"x":{"field":"date","type":"ordinal"},"x2":{"field":"date2"},"y":{"field":"price","type":"quantitative"},"y2":{"field":"price2"},
  "color":{"condition":{"test":"datum.kind === 'high'","value":"#2ecc71"},"value":"#ff4d4d"}}},
{"data":{"values":[{"date":"2026-02-10","price":231.9}]},
 "mark":{"type":"point","shape":"triangle-right","filled":true,"size":45,"angle":11,"fill":"#2ecc71","opacity":1},
 "encoding":{"x":{"field":"date","type":"ordinal"},"y":{"field":"price","type":"quantitative"}}},
{"data":{"values":[{"date":"2025-04-11","price":135.7}]},
 "mark":{"type":"point","shape":"triangle-left","filled":true,"size":45,"angle":8,"fill":"#ff4d4d","opacity":1},
 "encoding":{"x":{"field":"date","type":"ordinal"},"y":{"field":"price","type":"quantitative"}}},
{"data":{"values":[{"date":"2026-01-07","price":234.7,"kind":"high","label":"$231.32 52W"},{"date":"2025-05-15","price":133.2,"kind":"low","label":"$135.67 52W"}]},
 "mark":{"type":"point","filled":true,"size":9604,"strokeWidth":1.5,"opacity":1,
  "shape":"M-0.94,-0.194H0.94A0.06,0.06,0,0,1,1,-0.134V0.134A0.06,0.06,0,0,1,0.94,0.194H-0.94A0.06,0.06,0,0,1,-1,0.134V-0.134A0.06,0.06,0,0,1,-0.94,-0.194Z"},
 "encoding":{"x":{"field":"date","type":"ordinal"},"y":{"field":"price","type":"quantitative"},
  "fill":{"condition":{"test":"datum.kind === 'high'","value":"#07200f"},"value":"#3a0c0c"},
  "stroke":{"condition":{"test":"datum.kind === 'high'","value":"#2ecc71"},"value":"#e74c3c"}}},
{"data":{"values":[{"date":"2026-01-07","price":234.7,"kind":"high","label":"$231.32 52W"},{"date":"2025-05-15","price":133.2,"kind":"low","label":"$135.67 52W"}]},
 "mark":{"type":"text","font":"DejaVu Sans","fontWeight":"bold","fontSize":12.5,"align":"center","baseline":"middle"},
 "encoding":{"x":{"field":"date","type":"ordinal"},"y":{"field":"price","type":"quantitative"},"text":{"field":"label"},
  "color":{"condition":{"test":"datum.kind === 'high'","value":"#2ecc71"},"value":"#ff5c5c"}}}
]
},
{
"width":1042,"height":165,
"view":{"fill":"#5a5a5a","stroke":"#a0a0a0"},
"layer":[
{"data":{"name":"ohlc"},
 "mark":{"type":"bar","width":{"band":1},"clip":true},
 "encoding":{
  "x":{"field":"date","type":"ordinal","scale":{"paddingInner":0,"paddingOuter":0},
       "axis":{"title":null,"grid":true,"ticks":true,"tickSize":4,"domain":false,"labelOverlap":false,
               "values":["2025-05-01","2025-06-02","2025-07-01","2025-08-01","2025-09-02","2025-10-01","2025-11-03","2025-12-01","2026-01-02","2026-02-02","2026-03-02","2026-04-01"],
               "labelExpr":"indexof(['2025-05-01','2025-07-01','2025-09-02','2025-11-03','2026-01-02','2026-03-02'], datum.value) >= 0 ? utcFormat(toDate(datum.value), '%b %Y') : ''",
               "labelAngle":315,"labelAlign":"center","labelBaseline":"middle","labelPadding":40}},
  "y":{"field":"volume","type":"quantitative","scale":{"domain":[0.2,34.1],"nice":false,"zero":false},
       "axis":{"orient":"right","values":[10,20,30],"title":["Volumen","10⁶"],"titleAngle":270,"titleBaseline":"top","titlePadding":-8,"titleLineHeight":22,"labelPadding":4,"grid":true}},
  "y2":{"datum":0.2},
  "color":{"condition":{"test":"datum.close >= datum.open","value":"#1f8f1f"},"value":"#ff0000"}
 }},
{"data":{"values":[{"label":"TXN"}]},
 "mark":{"type":"text","font":"DejaVu Sans","fontWeight":"bold","fontSize":57,"fill":"#3a3a3a","opacity":0.32,"align":"center","baseline":"middle"},
 "encoding":{"x":{"datum":"2025-09-23","type":"ordinal"},"y":{"datum":27.55,"type":"quantitative"},"text":{"field":"label"}}}
]
}
]
}
